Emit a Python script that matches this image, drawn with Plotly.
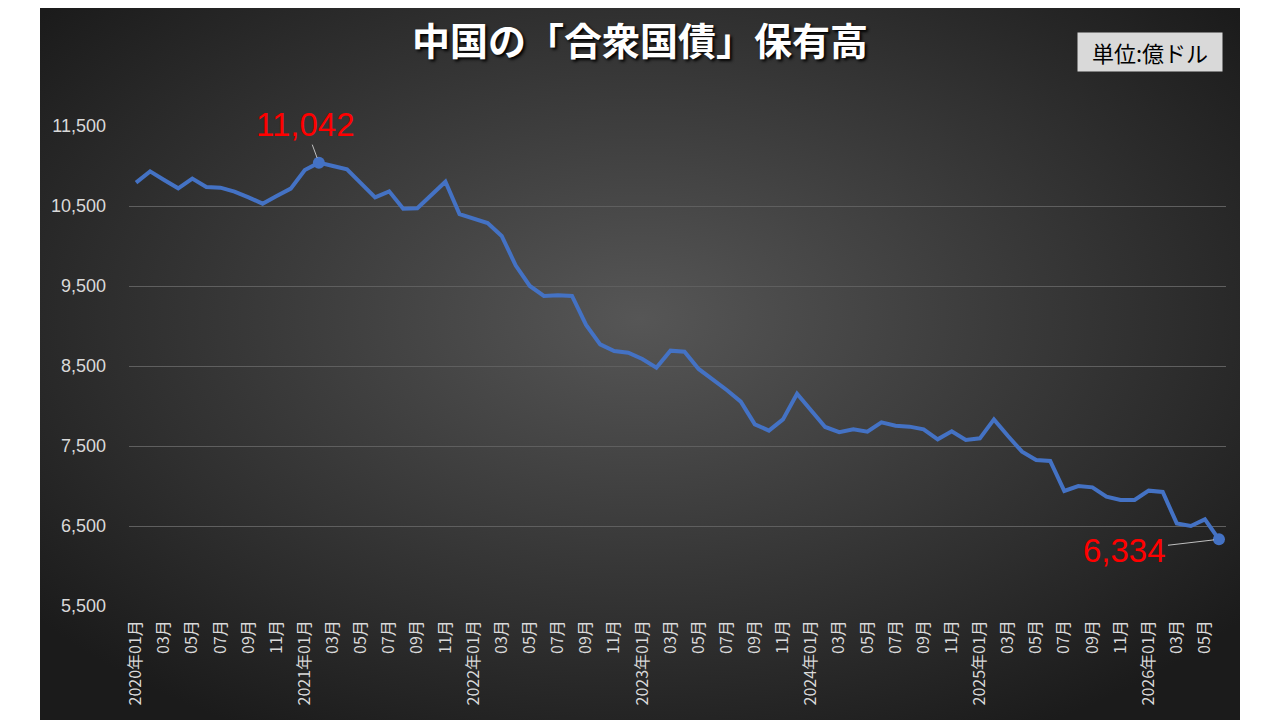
import base64
import plotly.graph_objects as go

# monthly holdings, 2020-01 .. 2026-06 (100 million USD)
years = [2020, 2021, 2022, 2023, 2024, 2025, 2026]
holdings = [
    10792, 10933, 10825, 10721, 10842, 10737, 10729, 10679, 10608, 10529, 10625, 10717,
    10950, 11042, 11000, 10958, 10783, 10608, 10683, 10467, 10471, 10646, 10804, 10398,
    10344, 10287, 10125, 9756, 9500, 9375, 9383, 9375, 9013, 8771, 8688, 8667,
    8588, 8479, 8692, 8679, 8463, 8333, 8200, 8054, 7771, 7692, 7833, 8154,
    7940, 7738, 7673, 7708, 7679, 7796, 7754, 7742, 7708, 7583, 7683, 7575,
    7596, 7833, 7625, 7429, 7325, 7313, 6938, 7000, 6983, 6867, 6825, 6825,
    6942, 6925, 6533, 6500, 6583, 6334,
]
ytick_vals = [5500, 6500, 7500, 8500, 9500, 10500, 11500]

months = []
for y in years:
    for m in range(1, 13):
        months.append('{}-{:02d}'.format(y, m))
months = months[:len(holdings)]

tick_vals = months[::2]
tick_text = [
    '{}年{}月'.format(s[:4], s[5:]) if s.endswith('-01') else '{}月'.format(s[5:])
    for s in tick_vals
]

peak = holdings.index(max(holdings))
last = len(holdings) - 1

blue = '#4472c4'
tick_col = '#d9d9d9'

# page has an 8px body margin, so lay out in screen pixels minus 8
OFF = 8
W, H = 1280 - OFF, 720 - OFF
L = 129 - OFF
T = 126 - OFF
R = W - (1226 - OFF)
B = H - (606 - OFF)
pw, ph = W - L - R, H - T - B


def px(sx):
    return (sx - OFF - L) / pw


def py(sy):
    return (H - B - (sy - OFF)) / ph


# radial dark background as svg
svg = '''<svg xmlns="http://www.w3.org/2000/svg" width="1200" height="730">
<defs><radialGradient id="g" cx="50%" cy="45%" r="65%">
<stop offset="0%" stop-color="#565656"/>
<stop offset="100%" stop-color="#1b1b1b"/>
</radialGradient></defs>
<rect width="1200" height="730" fill="url(#g)"/></svg>'''
bg_src = 'data:image/svg+xml;base64,' + base64.b64encode(svg.encode()).decode()

fig = go.Figure()
fig.add_trace(go.Scatter(
    x=months, y=holdings, mode='lines',
    line=dict(color=blue, width=4),
    hoverinfo='x+y', showlegend=False,
))
fig.add_trace(go.Scatter(
    x=[months[peak], months[last]], y=[holdings[peak], holdings[last]],
    mode='markers', marker=dict(color=blue, size=12),
    showlegend=False, hoverinfo='skip',
))

fig.update_layout(
    width=W, height=H,
    margin=dict(l=L, r=R, t=T, b=B),
    paper_bgcolor='white',
    plot_bgcolor='rgba(0,0,0,0)',
    font=dict(family='Liberation Sans, Noto Sans CJK JP', color=tick_col),
    images=[dict(
        source=bg_src, xref='paper', yref='paper',
        x=px(40), y=py(-10),
        sizex=1200 / pw, sizey=730 / ph,
        xanchor='left', yanchor='top', sizing='stretch', layer='below',
    )],
    xaxis=dict(
        type='category',
        range=[-0.5, len(holdings) - 0.5],
        tickvals=tick_vals, ticktext=tick_text,
        tickangle=-90,
        tickfont=dict(family='Noto Sans CJK JP', size=16, color=tick_col),
        showgrid=False, zeroline=False, showline=False,
        ticks='', ticklabelstandoff=10,
    ),
    yaxis=dict(
        range=[5500, 11500],
        tickvals=ytick_vals, tickformat=',d',
        tickfont=dict(family='Liberation Sans', size=18, color=tick_col),
        showgrid=True, gridcolor='#5f5f5f', gridwidth=1,
        zeroline=False, showline=False, ticks='',
        ticklabelstandoff=22,
    ),
    title=dict(
        text='<b>中国の「合衆国債」保有高</b>',
        x=(640 - OFF) / W, xref='container', xanchor='center',
        y=1 - (42 - OFF) / H, yref='container', yanchor='middle',
        font=dict(family='Noto Sans CJK JP', size=38, color='white',
                  shadow='2px 2px 3px #000000'),
    ),
)

# unit box
fig.add_annotation(
    text='単位:億ドル', xref='paper', yref='paper',
    x=px(1150), y=py(52), xanchor='center', yanchor='middle',
    showarrow=False, bgcolor='#d9d9d9',
    font=dict(family='Noto Sans CJK JP', size=22, color='black'),
    borderpad=3, width=138,
)

# value labels
fig.add_annotation(
    x=months[peak], y=holdings[peak],
    text='{:,}'.format(holdings[peak]),
    showarrow=True, arrowhead=0, arrowwidth=1, arrowcolor='#bfbfbf',
    ax=-14, ay=-38, standoff=5,
    font=dict(family='Liberation Sans', size=33, color='#ff0000'),
)
fig.add_annotation(
    x=months[last], y=holdings[last],
    text='{:,}'.format(holdings[last]),
    showarrow=True, arrowhead=0, arrowwidth=1, arrowcolor='#bfbfbf',
    ax=-94, ay=11, standoff=5,
    font=dict(family='Liberation Sans', size=33, color='#ff0000'),
)

fig.write_html('out.html')
